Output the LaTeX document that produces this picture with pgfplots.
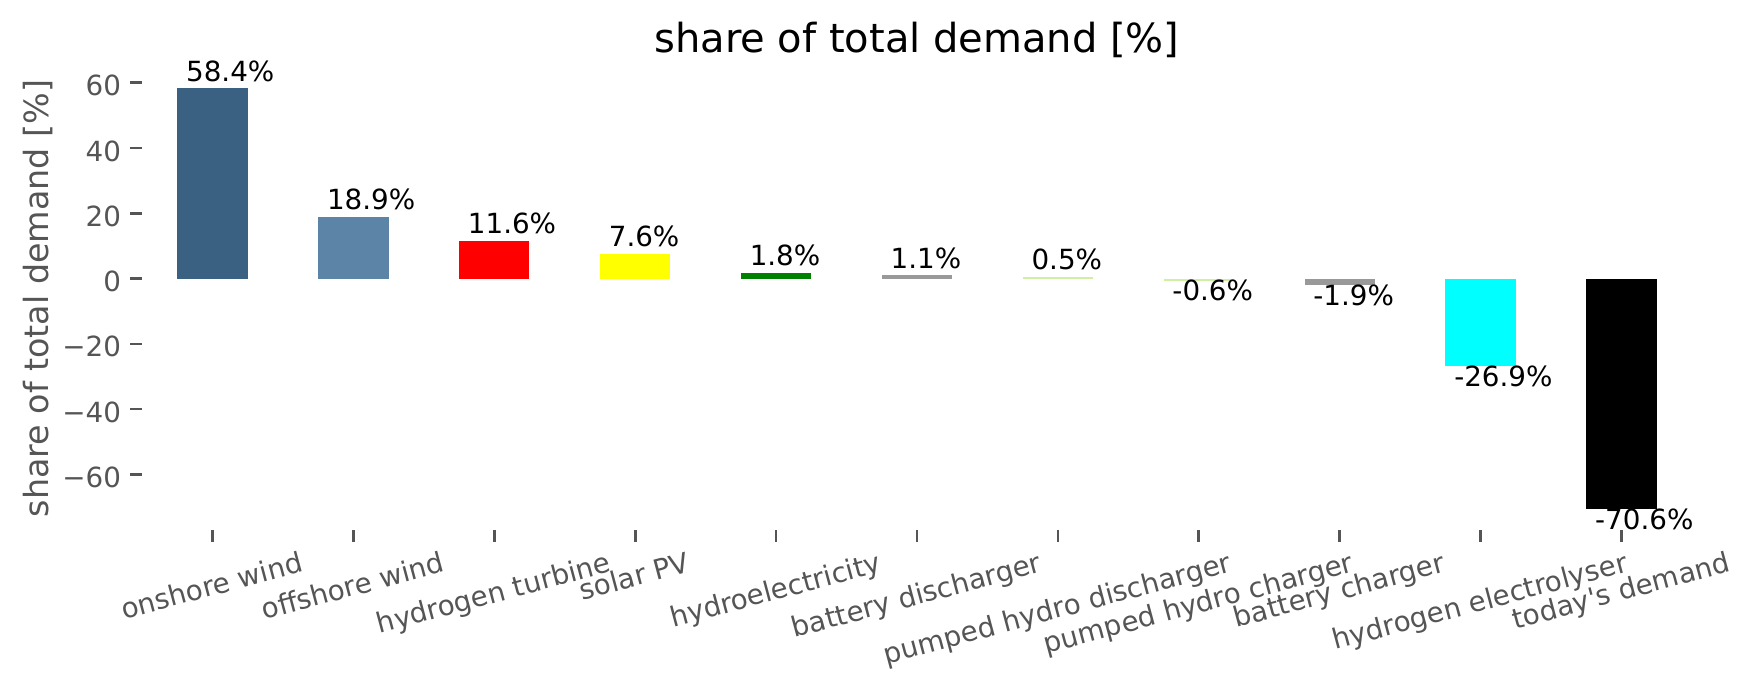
\documentclass[border=0pt]{standalone}
\usepackage{fontspec}
\setmainfont{DejaVu Sans}[Ligatures=TeXOff]
\usepackage{graphicx}
\usepackage{pgfplots}
\pgfplotsset{compat=1.18}
\definecolor{tickgray}{HTML}{555555}
\definecolor{onwind}{HTML}{3B6182}
\definecolor{offwind}{HTML}{5C84A6}
\definecolor{battgray}{HTML}{999999}
\definecolor{phs}{HTML}{CFF0A0}
\definecolor{hred}{HTML}{FF0000}
\definecolor{syellow}{HTML}{FFFF00}
\definecolor{hgreen}{HTML}{008000}
\definecolor{ecyan}{HTML}{00FFFF}
\definecolor{dblack}{HTML}{000000}
\newcommand\tickfont{\fontsize{8.33}{10}\selectfont}
\newcommand\xlab[1]{\ifcase#1 onshore wind\or offshore wind\or hydrogen turbine\or solar PV\or hydroelectricity\or battery discharger\or pumped hydro discharger\or pumped hydro charger\or battery charger\or hydrogen electrolyser\or today's demand\fi}
\newcommand\rotlab[1]{\rotatebox[origin=c]{15}{\rule[-1.97pt]{0pt}{8.3pt}\xlab{#1}}}
\pgfplotsset{
  posl/.style={nodes near coords, point meta=explicit symbolic,
    every node near coord/.append style={anchor=base west, inner sep=0pt, xshift=-8.1pt, yshift=2.1pt, font=\tickfont, text=black}},
  negl/.style={nodes near coords, point meta=explicit symbolic,
    every node near coord/.append style={anchor=north west, inner sep=0pt, xshift=-8.1pt, yshift=0.3pt, font=\tickfont, text=black}},
}
\begin{document}
\begin{tikzpicture}
\begin{axis}[
  at={(42.6pt,47.7pt)}, anchor=south west,
  scale only axis, width=465pt, height=138.9pt,
  xmin=-0.5, xmax=10.5, ymin=-77.05, ymax=64.85,
  ybar, bar width=0.5, bar shift=0pt,
  axis line style={draw=none},
  clip=false,
  tick align=outside, xtick pos=bottom, ytick pos=left,
  major tick length=3.5pt,
  tick style={tickgray, line width=0.8pt},
  xtick={0,...,10},
  xticklabel={\rotlab{\ticknum}},
  x tick label style={font=\tickfont, text=tickgray, anchor=north, inner sep=0pt, yshift=-2.6pt},
  ytick={-60,-40,-20,0,20,40,60},
  yticklabels={−60,−40,−20,0,20,40,60},
  y tick label style={font=\tickfont, text=tickgray, anchor=east, inner sep=0pt, xshift=-2.6pt, yshift=-0.9pt},
  ylabel={share of total demand [\%]},
  ylabel style={at={(axis description cs:-0.0606,0.5)}, anchor=base, rotate=0, inner sep=0pt, font=\fontsize{10}{12}\selectfont, text=tickgray},
  every axis title shift=0pt,
  title={share of total demand [\%]},
  title style={at={(axis description cs:0.5,1)}, anchor=base, yshift=4.5pt, inner sep=0pt, font=\fontsize{12}{14.4}\selectfont, text=black},
]
\addplot[fill=onwind, draw=none, posl] coordinates {(0,58.4) [58.4\%]};
\addplot[fill=offwind, draw=none, posl] coordinates {(1,18.9) [18.9\%]};
\addplot[fill=hred, draw=none, posl] coordinates {(2,11.6) [11.6\%]};
\addplot[fill=syellow, draw=none, posl] coordinates {(3,7.6) [7.6\%]};
\addplot[fill=hgreen, draw=none, posl] coordinates {(4,1.8) [1.8\%]};
\addplot[fill=battgray, draw=none, posl] coordinates {(5,1.1) [1.1\%]};
\addplot[fill=phs, draw=none, posl] coordinates {(6,0.5) [0.5\%]};
\addplot[fill=phs, draw=none, negl] coordinates {(7,-0.6) [-0.6\%]};
\addplot[fill=battgray, draw=none, negl] coordinates {(8,-1.9) [-1.9\%]};
\addplot[fill=ecyan, draw=none, negl] coordinates {(9,-26.9) [-26.9\%]};
\addplot[fill=dblack, draw=none, negl] coordinates {(10,-70.6) [-70.6\%]};
\end{axis}
\pgfresetboundingbox
\useasboundingbox (0,0) rectangle (525.9pt,206.7pt);
\end{tikzpicture}
\end{document}
